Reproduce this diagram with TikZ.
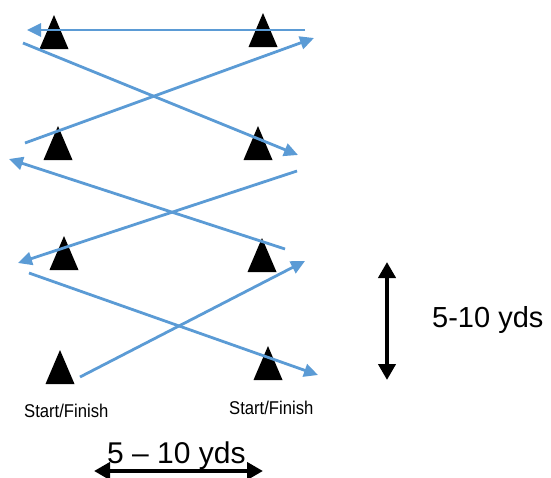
\documentclass[tikz,border=0pt]{standalone}
\usepackage{fontspec}
\setmainfont{Liberation Sans}
\newfontfamily\narrowsans[FakeStretch=0.9]{Liberation Sans}
\usetikzlibrary{arrows.meta}
\definecolor{runblue}{HTML}{5B9BD5}
\tikzset{
  run/.style={draw=runblue, line width=2.8pt, -{Triangle[length=14pt,width=13pt]}},
  dist/.style={draw=black, line width=4pt, {Triangle[length=16pt,width=17pt]}-{Triangle[length=16pt,width=17pt]}},
  cone/.pic={\fill[black] (-14.5,0) -- (14.5,0) -- (0,-34) -- cycle;},
  lbl/.style={inner sep=0pt, anchor=base west, font=\narrowsans\fontsize{18.5}{22}\selectfont},
  big/.style={inner sep=0pt, anchor=base west, font=\fontsize{30}{34}\selectfont}
}
\begin{document}
\begin{tikzpicture}[x=1pt,y=-1pt]
\useasboundingbox (0,0) rectangle (551,477);
% cones
\pic at (54,49) {cone};
\pic at (263,47) {cone};
\pic at (58,160) {cone};
\pic at (258,160) {cone};
\pic at (64,270) {cone};
\pic at (262,272) {cone};
\pic at (60,384) {cone};
\pic at (268,380) {cone};
% route coordinates
\coordinate (a1) at (305,30);  \coordinate (a2) at (27,30);
\coordinate (b1) at (23,43);   \coordinate (b2) at (298,155);
\coordinate (c1) at (25,143);  \coordinate (c2) at (314,38);
\coordinate (d1) at (297,171); \coordinate (d2) at (18,263);
\coordinate (e1) at (285,249); \coordinate (e2) at (9,159);
\coordinate (f1) at (29,273);  \coordinate (f2) at (318,375);
\coordinate (g1) at (80,377);  \coordinate (g2) at (305,261);
\draw[run] (a1) -- (a2);
\draw[run] (b1) -- (b2);
\draw[run] (c1) -- (c2);
\draw[run] (d1) -- (d2);
\draw[run] (e1) -- (e2);
\draw[run] (f1) -- (f2);
\draw[run] (g1) -- (g2);
% labels
\node[lbl] (sfl) at (24,417) {Start/Finish};
\node[lbl] (sfr) at (229,414) {Start/Finish};
% distance arrows
\coordinate (vt) at (387,262); \coordinate (vb) at (387,380);
\draw[dist] (vt) -- (vb);
\node[big, font=\fontsize{29}{34}\selectfont] (vlab) at (432,327) {5-10 yds};
\node[big] (hlab) at (107,463) {5 – 10 yds};
\coordinate (hl) at (94,471); \coordinate (hr) at (263,471);
\draw[dist] (hl) -- (hr);
\end{tikzpicture}
\end{document}
